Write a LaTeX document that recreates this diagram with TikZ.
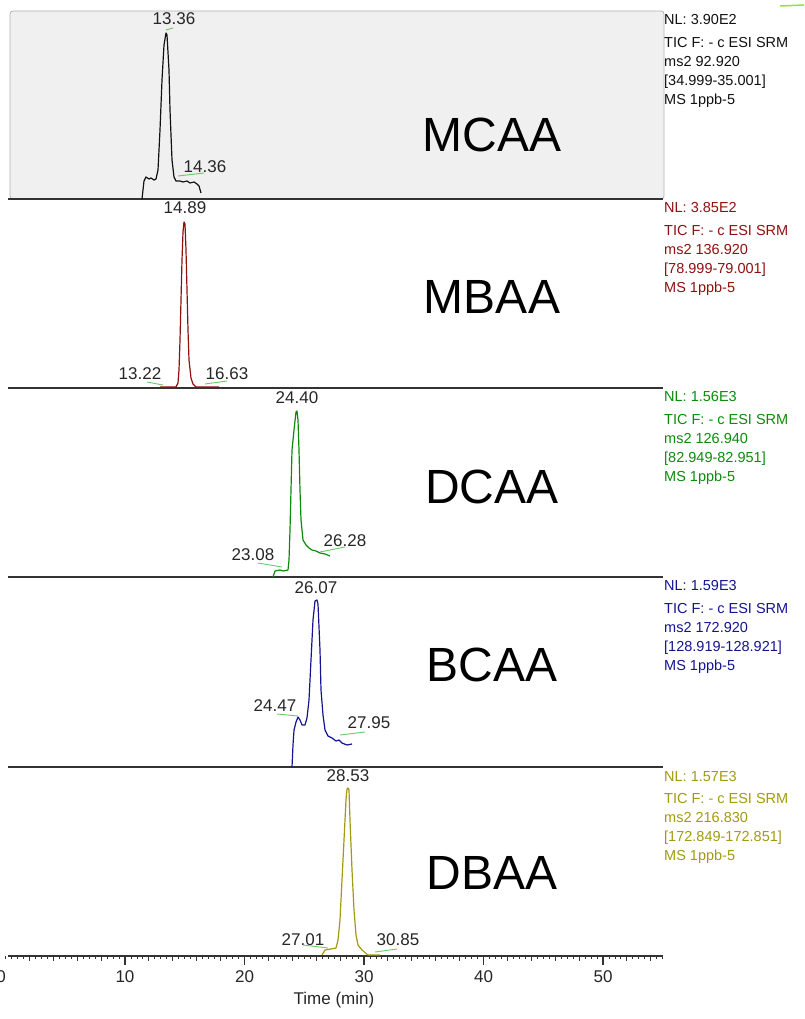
\documentclass[tikz,border=0pt]{standalone}
\usepackage{fontspec}
\setmainfont{Liberation Sans}
\usetikzlibrary{calc}
\definecolor{cmca}{HTML}{111111}
\definecolor{cmba}{HTML}{8E1010}
\definecolor{cdca}{HTML}{0C8A0C}
\definecolor{cbca}{HTML}{14148E}
\definecolor{cdba}{HTML}{A29A12}
\definecolor{pkgreen}{HTML}{6CC66C}
\definecolor{boxgray}{HTML}{F0F0F0}
\definecolor{limemark}{HTML}{8CE63C}
\tikzset{
  base/.style={draw=black!80, line width=1.6pt},
  trace/.style={line width=1.2pt, line join=round},
  pklab/.style={text=black!85, font=\fontsize{17}{17}\selectfont, inner sep=0pt},
  pkmark/.style={draw=pkgreen, line width=0.9pt},
  infotxt/.style={anchor=west, inner sep=0pt, font=\fontsize{14.5}{19}\selectfont},
  cmpd/.style={font=\fontsize{48}{48}\selectfont, inner sep=0pt},
}

\begin{document}
\begin{tikzpicture}[x=1pt,y=-1pt]
\useasboundingbox (0,0) rectangle (805,1019);
% top panel background
\draw[draw=black!30, fill=boxgray, rounded corners=3pt, line width=0.8pt] (10,11) rectangle (664,199);
\draw[draw=limemark, line width=1.5pt] (780,6) -- (804,5);

% baselines
\foreach \yb in {199,388,577,767,956}
  \draw[base] (8,\yb) -- (663,\yb);

% time axis
\foreach \t in {0,0.5,...,55}
  \draw[black!80, line width=0.9pt] ({5.5+11.95*\t},956) -- ++(0,3);
\foreach \t in {2,4,...,54}
  \draw[black!80, line width=0.9pt] ({5.5+11.95*\t},956) -- ++(0,5);
\foreach \t in {10,20,...,50} {
  \draw[black!80, line width=1.1pt] ({5.5+11.95*\t},956) -- ++(0,9);
  \node[pklab] (tk\t) at ({5.5+11.95*\t},977) {\t};
}
\node[pklab] (tk0) at (1,977) {0};
\node[pklab] (xlab) at (334,1000) {Time (min)};

% side texts and compound names
\foreach \top/\col/\nl/\ms/\rg/\nm/\ly [count=\k] in {
  11/cmca/3.90E2/92.920/34.999-35.001/MCAA/135,
  199/cmba/3.85E2/136.920/78.999-79.001/MBAA/297,
  388/cdca/1.56E3/126.940/82.949-82.951/DCAA/487,
  577/cbca/1.59E3/172.920/128.919-128.921/BCAA/665,
  767/cdba/1.57E3/216.830/172.849-172.851/DBAA/873} {
  \node[infotxt, text=\col] (nl\k) at (664,\top+9) {NL: \nl};
  \node[infotxt, text=\col, anchor=north west, align=left] (ms\k) at (664,\top+26)
    {TIC F: - c ESI SRM\\ms2 \ms\\{[\rg]}\\MS 1ppb-5};
  \node[cmpd] (cp\k) at (492,\ly) {\nm};
}

% MCAA
\draw[trace, cmca] (142,199) -- (144,181) -- (146,177) -- (149,179) -- (151,178) -- (154,180) -- (156,179)
  -- (158,170) -- (160,130) -- (162,80) -- (164,45) -- (166,33) -- (167,35) -- (169,70) -- (170,110)
  -- (172,160) -- (174,177) -- (176,181) -- (180,181) -- (183,182) -- (187,181) -- (190,183)
  -- (194,182) -- (197,184) -- (199,186) -- (201,193);
\node[pklab] (m1) at (174,19) {13.36};
\draw[pkmark] (166,30) -- (173,28);
\node[pklab] (m2) at (205,167) {14.36};
\draw[pkmark] (178,176) -- (204,173);

% MBAA
\draw[trace, cmba] (160,387) -- (176,387) -- (178,383) -- (179,370) -- (180,340) -- (181,300) -- (182,260)
  -- (183,232) -- (184,222) -- (185,224) -- (186,250) -- (187,290) -- (188,330) -- (189,360)
  -- (191,378) -- (193,384) -- (196,387) -- (219,387);
\node[pklab] (b1) at (185,208) {14.89};
\node[pklab] (b2) at (140,374) {13.22};
\draw[pkmark] (147,382) -- (163,385);
\node[pklab] (b3) at (227,374) {16.63};
\draw[pkmark] (205,384) -- (227,381);

% DCAA
\draw[trace, cdca] (273,577) -- (275,571) -- (280,570) -- (283,571) -- (288,570) -- (289,560) -- (290,530)
  -- (291,490) -- (292,450) -- (294,430) -- (296,412) -- (297,411) -- (298,420) -- (299,450)
  -- (300,490) -- (301,520) -- (303,540) -- (306,545) -- (309,548) -- (312,550) -- (316,551)
  -- (320,553) -- (325,554) -- (330,556);
\node[pklab] (d1) at (297,398) {24.40};
\node[pklab] (d2) at (253,555) {23.08};
\draw[pkmark] (258,563) -- (282,567);
\node[pklab] (d3) at (345,541) {26.28};
\draw[pkmark] (320,552) -- (345,547);

% BCAA
\draw[trace, cbca] (292,767) -- (293,745) -- (294,730) -- (296,722) -- (298,717) -- (300,720) -- (302,725)
  -- (305,725) -- (307,718) -- (309,700) -- (311,660) -- (313,620) -- (315,601) -- (317,600)
  -- (318,604) -- (320,650) -- (321,690) -- (323,715) -- (325,730) -- (328,736) -- (332,738)
  -- (336,741) -- (339,740) -- (342,743) -- (347,745) -- (352,744);
\node[pklab] (c1) at (316,588) {26.07};
\node[pklab] (c2) at (275,706) {24.47};
\draw[pkmark] (277,714) -- (298,716);
\node[pklab] (c3) at (369,723) {27.95};
\draw[pkmark] (340,735) -- (365,732);

% DBAA
\draw[trace, cdba] (322,955) -- (325,950) -- (336,948) -- (338,940) -- (340,920) -- (342,880) -- (344,840)
  -- (346,800) -- (347,789) -- (348,788) -- (349,790) -- (350,820) -- (352,870) -- (354,910)
  -- (356,935) -- (358,945) -- (362,950) -- (368,955) -- (380,955);
\node[pklab] (e1) at (348,776) {28.53};
\node[pklab] (e2) at (303,940) {27.01};
\draw[pkmark] (303,945) -- (328,948);
\node[pklab] (e3) at (398,940) {30.85};
\draw[pkmark] (375,952) -- (397,949);
\end{tikzpicture}
\end{document}
